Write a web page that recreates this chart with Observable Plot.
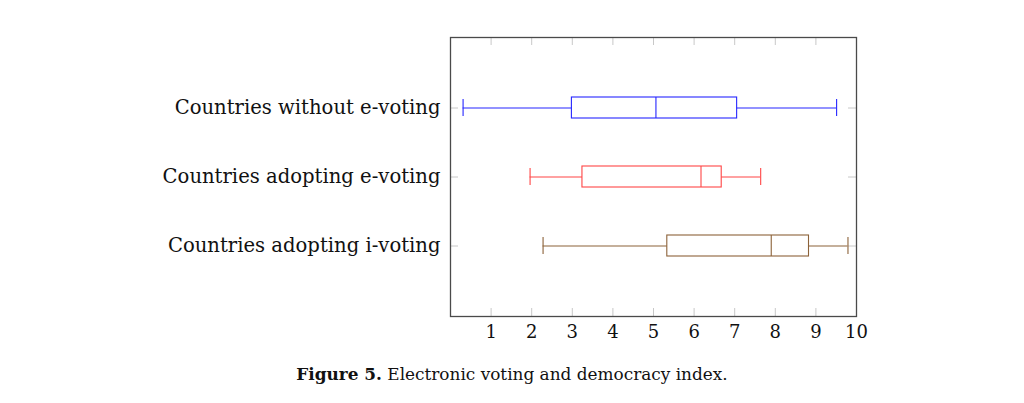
<!DOCTYPE html>
<html>
<head>
<meta charset="utf-8">
<script src="https://cdn.jsdelivr.net/npm/d3@7"></script>
<script src="https://cdn.jsdelivr.net/npm/@observablehq/plot@0.6"></script>
<style>
  html, body { margin: 0; padding: 0; background: #fff; }
  #chart { width: 1024px; height: 350px; }
  #caption { width: 1024px; text-align: center; font-family: "DejaVu Serif", serif; font-size: 16.9px; line-height: 20px; margin-top: 14px; color: #111; }
</style>
</head>
<body>
<div id="chart"></div>
<div id="caption"><b>Figure 5.</b> Electronic voting and democracy index.</div>
<script>
const categories = ["Countries without e-voting", "Countries adopting e-voting", "Countries adopting i-voting"];
const lowWhisker = [0.31, 1.96, 2.28];
const q1 = [2.99, 3.25, 5.34];
const median = [5.06, 6.17, 7.90];
const q3 = [7.06, 6.68, 8.83];
const highWhisker = [9.51, 7.64, 9.79];
const colors = ["#2626ff", "#ff4545", "#8c6239"];
const xTicks = [1, 2, 3, 4, 5, 6, 7, 8, 9, 10];

const rows = categories.map((c, i) => ({
  cat: c, lo: lowWhisker[i], q1: q1[i], med: median[i], q3: q3[i], hi: highWhisker[i], color: colors[i]
}));

const W = 1024, H = 350, mL = 450, mR = 168, mT = 37, mB = 34;
const frameW = W - mL - mR, frameH = H - mT - mB;
const tickLen = 8;

const plot = Plot.plot({
  width: W, height: H,
  marginLeft: mL, marginRight: mR, marginTop: mT, marginBottom: mB,
  style: { fontFamily: "DejaVu Serif, serif", color: "#111", background: "#fff" },
  x: { domain: [0, 10], label: null },
  y: { domain: categories, paddingInner: 0.7, paddingOuter: 0.85, label: null },
  marks: [
    // inward ticks
    Plot.ruleX(xTicks, { x: d => d, stroke: "#c8c8c8", insetBottom: frameH - tickLen }),
    Plot.ruleX(xTicks, { x: d => d, stroke: "#c8c8c8", insetTop: frameH - tickLen }),
    Plot.ruleY(categories, { y: d => d, stroke: "#c8c8c8", insetRight: frameW - tickLen }),
    Plot.ruleY(categories, { y: d => d, stroke: "#c8c8c8", insetLeft: frameW - tickLen }),
    // whiskers
    Plot.ruleY(rows, { y: "cat", x1: "lo", x2: "hi", stroke: "color", strokeWidth: 1.1 }),
    Plot.tickX(rows, { y: "cat", x: "lo", stroke: "color", strokeWidth: 1.1, insetTop: 2, insetBottom: 2 }),
    Plot.tickX(rows, { y: "cat", x: "hi", stroke: "color", strokeWidth: 1.1, insetTop: 2, insetBottom: 2 }),
    // boxes
    Plot.barX(rows, { y: "cat", x1: "q1", x2: "q3", fill: "white", stroke: "color", strokeWidth: 1.1 }),
    Plot.tickX(rows, { y: "cat", x: "med", stroke: "color", strokeWidth: 1.1 }),
    // axes
    Plot.axisX(xTicks, { tickSize: 0, tickPadding: 9, fontSize: 18, fill: "#111", label: null }),
    Plot.axisY({ tickSize: 0, tickPadding: 10, fontSize: 19.6, fill: "#111", label: null }),
    Plot.frame({ stroke: "#4a4a4a", strokeWidth: 1.3 })
  ]
});
document.getElementById("chart").appendChild(plot);
</script>
</body>
</html>
